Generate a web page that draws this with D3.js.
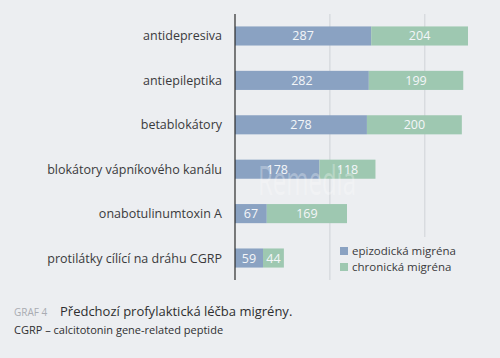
<!DOCTYPE html>
<html>
<head>
<meta charset="utf-8">
<script src="https://cdn.jsdelivr.net/npm/d3@7"></script>
<style>
  body { margin: 0; background: #eceef1; }
  svg { display: block; font-family: "Open Sans", "Noto Sans", sans-serif; }
</style>
</head>
<body>
<div id="chart"></div>
<script>
// data
var categories = ["antidepresiva", "antiepileptika", "betablokátory",
                  "blokátory vápníkového kanálu", "onabotulinumtoxin A",
                  "protilátky cílící na dráhu CGRP"];
var episodic = [287, 282, 278, 178, 67, 59];
var chronic  = [204, 199, 200, 118, 169, 44];
var seriesNames = ["epizodická migréna", "chronická migréna"];
var gridTicks = [200, 400];

var W = 500, H = 358;
var margin = {top: 14, left: 235, right: 30, bottom: 78};
var colors = ["#8aa2c2", "#9ec8b1"];

var svg = d3.select("#chart").append("svg")
    .attr("width", W).attr("height", H);

svg.append("rect").attr("width", W).attr("height", H).attr("fill", "#eceef1");

var x = d3.scaleLinear().domain([0, 491]).range([margin.left, 468]);
var y = d3.scaleBand().domain(categories)
    .range([margin.top, H - margin.bottom]).paddingInner(0.57).paddingOuter(0.28);

// gridlines
svg.selectAll(".grid").data(gridTicks).enter().append("line")
    .attr("x1", function(d) { return x(d); })
    .attr("x2", function(d) { return x(d); })
    .attr("y1", margin.top)
    .attr("y2", function(d) { return d == 400 ? 237 : H - margin.bottom; })
    .attr("stroke", "#cfd2d7").attr("stroke-width", 1);

var rows = svg.selectAll(".row").data(categories).enter().append("g");

rows.append("rect")
    .attr("x", x(0))
    .attr("y", function(d) { return y(d); })
    .attr("width", function(d, i) { return x(episodic[i]) - x(0); })
    .attr("height", y.bandwidth())
    .attr("fill", colors[0]);

rows.append("rect")
    .attr("x", function(d, i) { return x(episodic[i]); })
    .attr("y", function(d) { return y(d); })
    .attr("width", function(d, i) { return x(episodic[i] + chronic[i]) - x(episodic[i]); })
    .attr("height", y.bandwidth())
    .attr("fill", colors[1]);

// faint watermark
svg.append("text")
    .attr("x", 258).attr("y", 195)
    .attr("font-size", 40)
    .attr("textLength", 98).attr("lengthAdjust", "spacingAndGlyphs")
    .attr("fill", "#ffffff").attr("fill-opacity", 0.28)
    .text("Remedia");

rows.append("text")
    .attr("x", function(d, i) { return (x(0) + x(episodic[i])) / 2; })
    .attr("y", function(d) { return y(d) + y.bandwidth() / 2 + 4.5; })
    .attr("text-anchor", "middle")
    .attr("font-size", 12.5)
    .attr("fill", "#f4f6f9")
    .text(function(d, i) { return episodic[i]; });

rows.append("text")
    .attr("x", function(d, i) { return (x(episodic[i]) + x(episodic[i] + chronic[i])) / 2; })
    .attr("y", function(d) { return y(d) + y.bandwidth() / 2 + 4.5; })
    .attr("text-anchor", "middle")
    .attr("font-size", 12.5)
    .attr("fill", "#f4f6f9")
    .text(function(d, i) { return chronic[i]; });

rows.append("text")
    .attr("x", 222)
    .attr("y", function(d) { return y(d) + y.bandwidth() / 2 + 4.5; })
    .attr("text-anchor", "end")
    .attr("font-size", 12.5)
    .attr("fill", "#3a3a3c")
    .text(function(d) { return d; });

// axis line
svg.append("line")
    .attr("x1", margin.left).attr("x2", margin.left)
    .attr("y1", margin.top).attr("y2", H - margin.bottom)
    .attr("stroke", "#2b2b2b").attr("stroke-width", 1.2);

// legend
var legend = svg.selectAll(".legend").data(seriesNames).enter().append("g")
    .attr("transform", function(d, i) { return "translate(340," + (247 + i * 16) + ")"; });
legend.append("rect").attr("width", 8).attr("height", 8)
    .attr("fill", function(d, i) { return colors[i]; });
legend.append("text").attr("x", 12).attr("y", 8)
    .attr("font-size", 11.5).attr("fill", "#3a3a3c")
    .text(function(d) { return d; });

// caption
svg.append("text").attr("x", 14).attr("y", 316)
    .attr("font-size", 10).attr("fill", "#a9acb2")
    .text("GRAF 4");
svg.append("text").attr("x", 60).attr("y", 316)
    .attr("font-size", 13).attr("fill", "#2e2e30")
    .text("Předchozí profylaktická léčba migrény.");
svg.append("text").attr("x", 14).attr("y", 334)
    .attr("font-size", 11).attr("fill", "#2e2e30")
    .text("CGRP – calcitotonin gene-related peptide");
</script>
</body>
</html>
